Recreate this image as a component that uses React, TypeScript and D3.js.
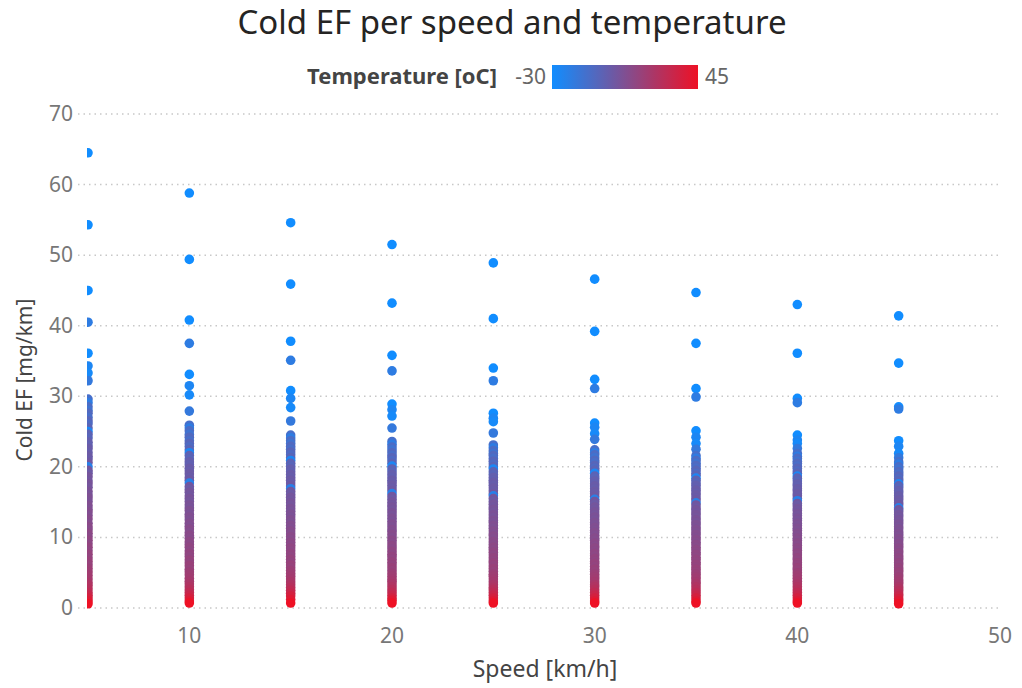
import React from 'react';
import * as d3 from 'd3';

// speeds on the x axis
const speeds = [5, 10, 15, 20, 25, 30, 35, 40, 45];

// temperature of the isolated high records (one per vehicle group)
const topTemps = [-30, -30, -30, -20, -30, -26, -28, -18];

// temperature of the dense records, top to bottom of each column
const stackTemps = [
  -12, -20, -10, -14, -8, -11, -6, -9, -5, -26,
  -4, -6, -2, -3, 0, -1, 1, 0, 2, -22,
  3, 1, 4, 3, 5, 4, 6, 5, 7, 6,
  8, 7, 9, 8, 10, 9, 11, 10, 12, 11,
  13, 12, 14, 13, 15, 14, 16, 15, 17, 18,
  19, 20, 22, 24, 26, 29, 32, 36, 40, 45,
];

// cold EF [mg/km] per speed: 8 high records, then the dense records
const ef5 = [
  64.5, 54.3, 45.0, 40.5, 36.1, 34.3, 33.3, 32.2,
  29.6, 29.1, 28.5, 28.0, 27.6, 27.0, 26.5, 26.1, 25.5, 25.0,
  24.6, 24.1, 23.5, 23.0, 22.6, 22.0, 21.5, 21.1, 20.6, 20.0,
  19.5, 19.1, 18.6, 18.0, 17.6, 17.1, 16.5, 16.0, 15.6, 15.1,
  14.5, 14.0, 13.6, 13.1, 12.6, 12.0, 11.5, 11.1, 10.6, 10.1,
  9.6, 9.1, 8.6, 8.1, 7.6, 7.1, 6.6, 6.1, 5.6, 5.1,
  4.6, 4.1, 3.6, 3.2, 2.7, 2.2, 1.8, 1.4, 1.0, 0.6,
];
const ef10 = [
  58.8, 49.4, 40.8, 37.5, 33.1, 31.5, 30.2, 27.9,
  25.9, 25.5, 25.1, 24.6, 24.2, 23.7, 23.3, 22.9, 22.4, 22.0,
  21.6, 21.1, 20.7, 20.3, 19.8, 19.4, 19.0, 18.5, 18.1, 17.7,
  17.2, 16.8, 16.4, 15.9, 15.5, 15.1, 14.6, 14.2, 13.8, 13.3,
  12.9, 12.5, 12.0, 11.6, 11.2, 10.7, 10.3, 9.9, 9.4, 9.0,
  8.6, 8.1, 7.7, 7.3, 6.8, 6.4, 6.0, 5.5, 5.1, 4.7,
  4.2, 3.8, 3.4, 3.0, 2.6, 2.2, 1.8, 1.4, 1.0, 0.7,
];
const ef15 = [
  54.6, 45.9, 37.8, 35.1, 30.8, 29.7, 28.4, 26.5,
  24.5, 24.1, 23.7, 23.3, 22.9, 22.5, 22.1, 21.7, 21.3, 20.9,
  20.5, 20.1, 19.7, 19.3, 18.9, 18.5, 18.1, 17.7, 17.3, 16.9,
  16.5, 16.1, 15.7, 15.3, 14.9, 14.5, 14.1, 13.7, 13.3, 12.9,
  12.5, 12.1, 11.7, 11.3, 10.9, 10.5, 10.1, 9.7, 9.3, 8.9,
  8.5, 8.1, 7.7, 7.3, 6.9, 6.5, 6.1, 5.7, 5.3, 4.9,
  4.5, 4.1, 3.7, 3.3, 2.9, 2.5, 2.1, 1.7, 1.2, 0.7,
];
const ef20 = [
  51.5, 43.2, 35.8, 33.6, 28.9, 28.1, 27.2, 25.5,
  23.6, 23.2, 22.8, 22.4, 22.0, 21.6, 21.3, 20.9, 20.5, 20.1,
  19.7, 19.3, 18.9, 18.5, 18.1, 17.8, 17.4, 17.0, 16.6, 16.2,
  15.8, 15.4, 15.0, 14.6, 14.3, 13.9, 13.5, 13.1, 12.7, 12.3,
  11.9, 11.5, 11.1, 10.8, 10.4, 10.0, 9.6, 9.2, 8.8, 8.4,
  8.0, 7.6, 7.3, 6.9, 6.5, 6.1, 5.7, 5.3, 4.9, 4.5,
  4.1, 3.8, 3.4, 3.0, 2.6, 2.2, 1.8, 1.4, 1.1, 0.7,
];
const ef25 = [
  48.9, 41.0, 34.0, 32.2, 27.6, 26.9, 26.4, 24.8,
  23.1, 22.7, 22.3, 21.9, 21.6, 21.2, 20.8, 20.4, 20.0, 19.7,
  19.3, 18.9, 18.5, 18.1, 17.8, 17.4, 17.0, 16.6, 16.2, 15.9,
  15.5, 15.1, 14.7, 14.3, 14.0, 13.6, 13.2, 12.8, 12.4, 12.1,
  11.7, 11.3, 10.9, 10.5, 10.2, 9.8, 9.4, 9.0, 8.6, 8.3,
  7.9, 7.5, 7.1, 6.7, 6.4, 6.0, 5.6, 5.2, 4.8, 4.5,
  4.1, 3.7, 3.3, 2.9, 2.6, 2.2, 1.8, 1.4, 1.0, 0.7,
];
const ef30 = [
  46.6, 39.2, 32.4, 31.1, 26.2, 25.6, 24.7, 23.9,
  22.4, 22.0, 21.7, 21.3, 20.9, 20.6, 20.2, 19.8, 19.5, 19.1,
  18.7, 18.4, 18.0, 17.6, 17.3, 16.9, 16.5, 16.2, 15.8, 15.4,
  15.1, 14.7, 14.3, 14.0, 13.6, 13.2, 12.9, 12.5, 12.1, 11.8,
  11.4, 11.0, 10.7, 10.3, 9.9, 9.6, 9.2, 8.8, 8.5, 8.1,
  7.7, 7.4, 7.0, 6.6, 6.3, 5.9, 5.5, 5.2, 4.8, 4.4,
  4.1, 3.7, 3.3, 3.0, 2.6, 2.2, 1.8, 1.4, 1.0, 0.7,
];
const ef35 = [
  44.7, 37.5, 31.1, 29.9, 25.1, 24.2, 23.3, 22.5,
  21.6, 21.2, 20.9, 20.5, 20.2, 19.8, 19.5, 19.1, 18.8, 18.4,
  18.1, 17.7, 17.4, 17.0, 16.7, 16.3, 16.0, 15.6, 15.3, 14.9,
  14.6, 14.2, 13.9, 13.5, 13.2, 12.8, 12.5, 12.1, 11.8, 11.4,
  11.1, 10.7, 10.4, 10.0, 9.7, 9.3, 9.0, 8.6, 8.3, 7.9,
  7.6, 7.2, 6.9, 6.5, 6.2, 5.8, 5.5, 5.1, 4.8, 4.4,
  4.1, 3.7, 3.4, 3.0, 2.6, 2.2, 1.8, 1.4, 1.0, 0.7,
];
const ef40 = [
  43.0, 36.1, 29.7, 29.1, 24.5, 23.8, 23.3, 22.6,
  21.9, 21.5, 21.2, 20.8, 20.5, 20.1, 19.8, 19.4, 19.1, 18.7,
  18.4, 18.0, 17.6, 17.3, 16.9, 16.6, 16.2, 15.9, 15.5, 15.2,
  14.8, 14.5, 14.1, 13.8, 13.4, 13.1, 12.7, 12.4, 12.0, 11.7,
  11.3, 11.0, 10.6, 10.3, 9.9, 9.6, 9.2, 8.9, 8.5, 8.2,
  7.8, 7.5, 7.1, 6.8, 6.4, 6.1, 5.7, 5.4, 5.0, 4.6,
  4.2, 3.8, 3.4, 3.0, 2.6, 2.2, 1.8, 1.4, 1.0, 0.7,
];
const ef45 = [
  41.4, 34.7, 28.5, 28.2, 23.7, 22.9, 21.9, 21.3,
  20.7, 20.4, 20.0, 19.7, 19.3, 19.0, 18.7, 18.3, 18.0, 17.6,
  17.3, 17.0, 16.6, 16.3, 15.9, 15.6, 15.3, 14.9, 14.6, 14.2,
  13.9, 13.6, 13.2, 12.9, 12.5, 12.2, 11.9, 11.5, 11.2, 10.8,
  10.5, 10.2, 9.8, 9.5, 9.1, 8.8, 8.5, 8.1, 7.8, 7.4,
  7.1, 6.8, 6.4, 6.1, 5.7, 5.4, 5.1, 4.7, 4.4, 4.0,
  3.7, 3.4, 3.0, 2.7, 2.4, 2.0, 1.7, 1.3, 1.0, 0.6,
];
const efBySpeed = [ef5, ef10, ef15, ef20, ef25, ef30, ef35, ef40, ef45];

const xTicks = [10, 20, 30, 40, 50];
const yTicks = [0, 10, 20, 30, 40, 50, 60, 70];
const tempRange = [-30, 45];

const W = 1022;
const H = 688;
const plot = { left: 88, right: 1000, top: 114, bottom: 608 };
const font = '"Noto Sans", "Open Sans", sans-serif';

export default function App() {
  const x = d3.scaleLinear().domain([5, 50]).range([plot.left, plot.right]);
  const y = d3.scaleLinear().domain([0, 70]).range([plot.bottom, plot.top]);
  const color = d3
    .scaleLinear<string>()
    .domain(tempRange)
    .range(['#118DFF', '#EE1125'])
    .interpolate(d3.interpolateRgb);

  const tempC = topTemps.concat(stackTemps);
  const points: { sx: number; ef: number; t: number }[] = [];
  speeds.forEach((s, i) => {
    efBySpeed[i].forEach((v, j) => points.push({ sx: s, ef: v, t: tempC[j] }));
  });

  const gradStops = d3.range(0, 1.01, 0.1);

  return (
    <div style={{ position: 'absolute', left: 0, top: 0 }}>
      <svg width={W} height={H} style={{ display: 'block', background: '#fff' }}>
        <defs>
          <linearGradient id="tempGrad" x1="0" x2="1" y1="0" y2="0">
            {gradStops.map((p) => (
              <stop
                key={p}
                offset={p}
                stopColor={color(tempRange[0] + p * (tempRange[1] - tempRange[0]))}
              />
            ))}
          </linearGradient>
          <clipPath id="plotClip">
            <rect x={plot.left - 1} y={0} width={plot.right - plot.left + 20} height={plot.bottom + 10} />
          </clipPath>
        </defs>

        <text x={512} y={34} textAnchor="middle" fontFamily={font} fontSize={33} fill="#252423">
          Cold EF per speed and temperature
        </text>

        {/* legend */}
        <text x={497} y={84} textAnchor="end" fontFamily={font} fontSize={22} fontWeight="bold" fill="#444">
          Temperature [oC]
        </text>
        <text x={546} y={84} textAnchor="end" fontFamily={font} fontSize={21} fill="#666">
          {tempRange[0]}
        </text>
        <rect x={552} y={65} width={146} height={24} fill="url(#tempGrad)" />
        <text x={705} y={84} fontFamily={font} fontSize={21} fill="#666">
          {tempRange[1]}
        </text>

        {/* grid + y axis */}
        {yTicks.map((t) => (
          <g key={t}>
            <line
              x1={78}
              x2={plot.right}
              y1={y(t)}
              y2={y(t)}
              stroke="#c8c8c8"
              strokeWidth={1.5}
              strokeDasharray="1.5 4"
            />
            <text x={73} y={y(t) + 7} textAnchor="end" fontFamily={font} fontSize={21} fill="#777">
              {t}
            </text>
          </g>
        ))}

        {/* x axis labels */}
        {xTicks.map((t) => (
          <text key={t} x={x(t)} y={643} textAnchor="middle" fontFamily={font} fontSize={21} fill="#777">
            {t}
          </text>
        ))}

        <text x={545} y={677} textAnchor="middle" fontFamily={font} fontSize={23} fill="#444">
          Speed [km/h]
        </text>
        <text
          transform={`translate(32, 380) rotate(-90)`}
          textAnchor="middle"
          fontFamily={font}
          fontSize={21}
          fill="#444"
        >
          Cold EF [mg/km]
        </text>

        <g clipPath="url(#plotClip)">
          {points.map((p, i) => (
            <circle key={i} cx={x(p.sx)} cy={y(p.ef)} r={4.8} fill={color(p.t)} />
          ))}
        </g>
      </svg>
    </div>
  );
}
